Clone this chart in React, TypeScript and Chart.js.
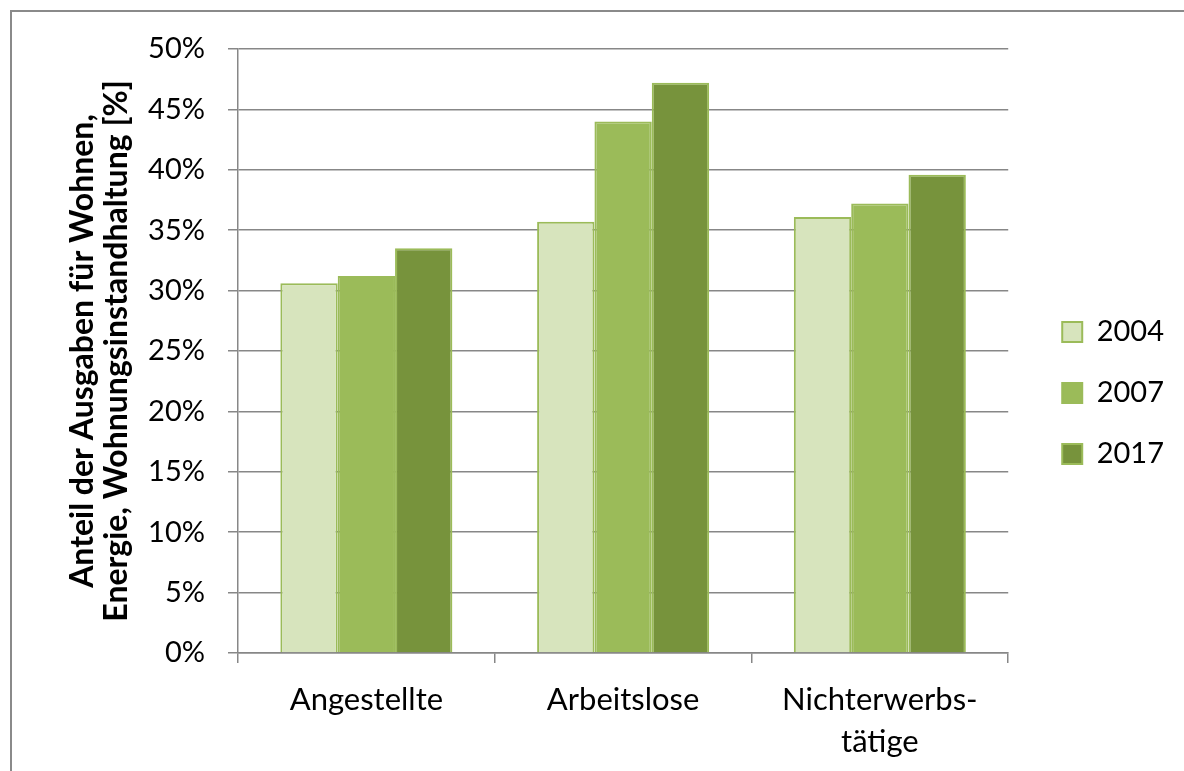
import React, { useEffect, useRef } from "react";
import { Chart, registerables } from "chart.js";

Chart.register(...registerables);

const categories: (string | string[])[] = ["Angestellte", "Arbeitslose", ["Nichterwerbs-", "tätige"]];
const years = ["2004", "2007", "2017"];
const values2004 = [30.6, 35.7, 36.1];
const values2007 = [31.2, 44.0, 37.2];
const values2017 = [33.5, 47.2, 39.6];
const yTicks = [0, 5, 10, 15, 20, 25, 30, 35, 40, 45, 50];
const axisTitle = ["Anteil der Ausgaben für Wohnen,", "Energie, Wohnungsinstandhaltung [%]"];

const fills = ["#D7E4BD", "#9BBB59", "#77933C"];
const edge = "#9BBB59";
const gridColor = "#878787";
const FONT = "Lato, 'Open Sans', sans-serif";

// Moves the legend block after layout so it sits with a wider gap to the plot
const legendNudge = {
  id: "legendNudge",
  afterLayout(chart: any) {
    const lg = chart.legend;
    if (!lg) return;
    lg.left += 22;
    lg.right += 22;
    lg.top -= 17;
    lg.bottom -= 17;
  },
};

export default function App() {
  const ref = useRef<HTMLCanvasElement>(null);

  useEffect(() => {
    if (!ref.current) return;
    const series = [values2004, values2007, values2017];
    const chart = new Chart(ref.current, {
      type: "bar",
      data: {
        labels: categories,
        datasets: years.map((y, i) => ({
          label: y,
          data: series[i],
          backgroundColor: fills[i],
          borderColor: edge,
          borderWidth: 2,
          categoryPercentage: 0.67,
          barPercentage: 1,
        })),
      },
      plugins: [legendNudge],
      options: {
        responsive: false,
        animation: false,
        layout: { padding: { left: 10, top: 49, right: 32, bottom: 0 } },
        plugins: {
          tooltip: { enabled: false },
          legend: {
            position: "right",
            labels: {
              boxWidth: 20,
              boxHeight: 20,
              padding: 32,
              color: "#000",
              font: { family: FONT, size: 29 },
            },
          },
        },
        scales: {
          x: {
            grid: {
              offset: true,
              drawOnChartArea: false,
              drawTicks: true,
              tickLength: 10,
              color: gridColor,
              lineWidth: 1.5,
            },
            border: { color: gridColor, width: 1.5 },
            ticks: {
              color: "#000",
              padding: 16,
              font: { family: FONT, size: 31, lineHeight: 1.36 },
              maxRotation: 0,
              autoSkip: false,
            },
            afterFit: (s: any) => {
              s.height = 118;
            },
          },
          y: {
            min: 0,
            max: 50,
            afterBuildTicks: (s: any) => {
              s.ticks = yTicks.map((v) => ({ value: v }));
            },
            grid: { color: gridColor, lineWidth: 1.5, tickLength: 10 },
            border: { color: gridColor, width: 1.5 },
            ticks: {
              color: "#000",
              padding: 23,
              font: { family: FONT, size: 29 },
              callback: (v: any) => `${v}%`,
            },
            title: {
              display: true,
              text: axisTitle,
              color: "#000",
              font: { family: FONT, size: 32, weight: "bold", lineHeight: 1.06 },
              padding: { top: 56, bottom: 0 },
            },
            afterFit: (s: any) => {
              s.width = 228;
            },
          },
        },
      },
    });
    return () => chart.destroy();
  }, []);

  return (
    <div>
      <div
        style={{
          position: "fixed",
          left: 10,
          top: 10,
          width: 1400,
          height: 1000,
          borderTop: "2px solid #8a8a8a",
          borderLeft: "2px solid #8a8a8a",
          background: "#fff",
        }}
      />
      <canvas
        ref={ref}
        width={1184}
        height={771}
        style={{ position: "fixed", left: 0, top: 0, display: "block" }}
      />
    </div>
  );
}
